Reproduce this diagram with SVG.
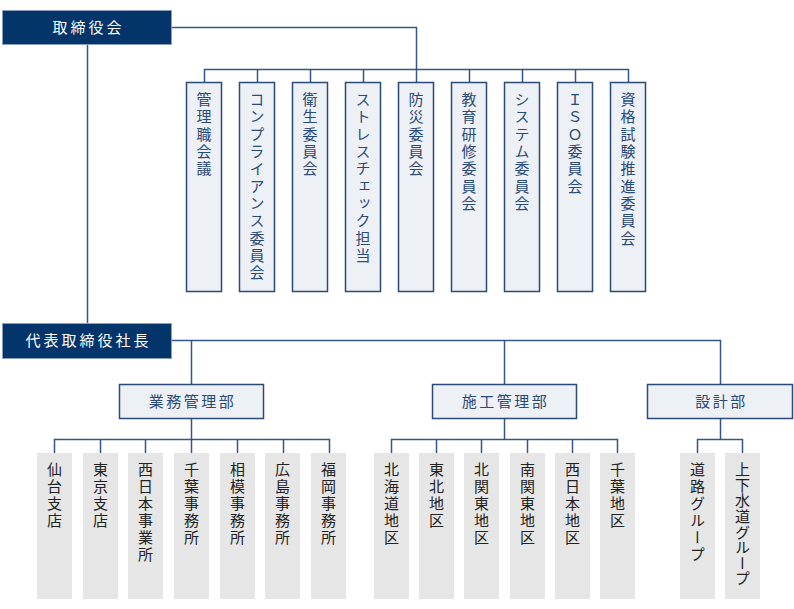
<svg xmlns="http://www.w3.org/2000/svg" width="794" height="609" viewBox="0 0 794 609">
<style>
.top{fill:#03346a;stroke:#8aa0bd;stroke-width:1}
.dept{fill:#edf0f5;stroke:#2a4a78;stroke-width:1.5}
.com{fill:#edf0f5;stroke:#2a4a78;stroke-width:1.5}
.sub{fill:#e6e6e6}
.ln{fill:none;stroke:#34558a;stroke-width:1.5}
.ht{font-family:"Noto Sans CJK JP","Noto Sans",sans-serif;font-size:15px;text-anchor:middle}
.wt{fill:#ffffff;letter-spacing:3px}
.bt{fill:#2a4a78;letter-spacing:2.5px}
.vt{font-family:"Noto Sans CJK JP","Noto Sans",sans-serif;font-size:15px;writing-mode:vertical-rl;letter-spacing:2.3px}
.vb{fill:#2a4a78}
.vk{fill:#222222;letter-spacing:2px}
.tight{letter-spacing:0.6px}
</style>
<g id="connectors">
<path class="ln" d="M172,27.5H416.5V82"/>
<path class="ln" d="M204.5,82V69.5H628.5V82"/>
<path class="ln" d="M257.5,69.5V82M310.5,69.5V82M363.5,69.5V82M469.5,69.5V82M522.5,69.5V82M575.5,69.5V82"/>
<path class="ln" d="M87.5,45V323"/>
<path class="ln" d="M172,340.5H720.5V384"/>
<path class="ln" d="M191.5,340.5V384M504.5,340.5V384"/>
<path class="ln" d="M191.5,419V439.5M54.5,453V439.5H329.5V453"/>
<path class="ln" d="M100.5,439.5V453M145.5,439.5V453M191.5,439.5V453M237.5,439.5V453M283.5,439.5V453"/>
<path class="ln" d="M504.5,419V439.5M391.5,453V439.5H617.5V453"/>
<path class="ln" d="M436.5,439.5V453M481.5,439.5V453M527.5,439.5V453M572.5,439.5V453"/>
<path class="ln" d="M720.5,419V439.5M697.5,453V439.5H742.5V453"/>
</g>
<g id="n-torishimariyakukai"><rect class="top" x="2.5" y="10.5" width="169" height="34"/><text class="ht wt" x="88.5" y="33">取締役会</text></g>
<g id="n-shacho"><rect class="top" x="2.5" y="323.5" width="169" height="35"/><text class="ht wt" x="88.5" y="346">代表取締役社長</text></g>

<g id="n-kanrishoku"><rect class="com" x="186.5" y="82.5" width="35" height="209"/><text class="vt vb" x="204" y="92">管理職会議</text></g>
<g id="n-compliance"><rect class="com" x="239.5" y="82.5" width="35" height="209"/><text class="vt vb" x="257" y="92">コンプライアンス委員会</text></g>
<g id="n-eisei"><rect class="com" x="292.5" y="82.5" width="35" height="209"/><text class="vt vb" x="310" y="92">衛生委員会</text></g>
<g id="n-stress"><rect class="com" x="345.5" y="82.5" width="35" height="209"/><text class="vt vb" x="363" y="92">ストレスチェック担当</text></g>
<g id="n-bosai"><rect class="com" x="398.5" y="82.5" width="35" height="209"/><text class="vt vb" x="416" y="92">防災委員会</text></g>
<g id="n-kyoiku"><rect class="com" x="451.5" y="82.5" width="35" height="209"/><text class="vt vb" x="469" y="92">教育研修委員会</text></g>
<g id="n-system"><rect class="com" x="504.5" y="82.5" width="35" height="209"/><text class="vt vb" x="522" y="92">システム委員会</text></g>
<g id="n-iso"><rect class="com" x="557.5" y="82.5" width="35" height="209"/><text class="vt vb" x="575" y="92">ＩＳＯ委員会</text></g>
<g id="n-shikaku"><rect class="com" x="610.5" y="82.5" width="35" height="209"/><text class="vt vb" x="628" y="92">資格試験推進委員会</text></g>

<g id="n-gyomu"><rect class="dept" x="119.5" y="384.5" width="144" height="34"/><text class="ht bt" x="192.5" y="407">業務管理部</text></g>
<g id="n-seko"><rect class="dept" x="432.5" y="384.5" width="144" height="34"/><text class="ht bt" x="505.5" y="407">施工管理部</text></g>
<g id="n-sekkei"><rect class="dept" x="647.5" y="384.5" width="145" height="34"/><text class="ht bt" x="721.5" y="407">設計部</text></g>

<g id="n-sendai"><rect class="sub" x="37" y="453" width="35" height="146"/><text class="vt vk" x="54.5" y="462">仙台支店</text></g>
<g id="n-tokyo"><rect class="sub" x="83" y="453" width="35" height="146"/><text class="vt vk" x="100.5" y="462">東京支店</text></g>
<g id="n-nishinihon"><rect class="sub" x="128" y="453" width="35" height="146"/><text class="vt vk" x="145.5" y="462">西日本事業所</text></g>
<g id="n-chiba"><rect class="sub" x="174" y="453" width="35" height="146"/><text class="vt vk" x="191.5" y="462">千葉事務所</text></g>
<g id="n-sagami"><rect class="sub" x="220" y="453" width="35" height="146"/><text class="vt vk" x="237.5" y="462">相模事務所</text></g>
<g id="n-hiroshima"><rect class="sub" x="265" y="453" width="35" height="146"/><text class="vt vk" x="282.5" y="462">広島事務所</text></g>
<g id="n-fukuoka"><rect class="sub" x="311" y="453" width="35" height="146"/><text class="vt vk" x="328.5" y="462">福岡事務所</text></g>

<g id="n-hokkaido"><rect class="sub" x="374" y="453" width="35" height="146"/><text class="vt vk" x="391.5" y="462">北海道地区</text></g>
<g id="n-tohoku"><rect class="sub" x="419" y="453" width="35" height="146"/><text class="vt vk" x="436.5" y="462">東北地区</text></g>
<g id="n-kitakanto"><rect class="sub" x="464" y="453" width="35" height="146"/><text class="vt vk" x="481.5" y="462">北関東地区</text></g>
<g id="n-minamikanto"><rect class="sub" x="510" y="453" width="35" height="146"/><text class="vt vk" x="527.5" y="462">南関東地区</text></g>
<g id="n-nishinihonchiku"><rect class="sub" x="555" y="453" width="35" height="146"/><text class="vt vk" x="572.5" y="462">西日本地区</text></g>
<g id="n-chibachiku"><rect class="sub" x="600" y="453" width="35" height="146"/><text class="vt vk" x="617.5" y="462">千葉地区</text></g>

<g id="n-doro"><rect class="sub" x="680" y="453" width="35" height="146"/><text class="vt vk" x="697.5" y="462">道路グループ</text></g>
<g id="n-gesuido"><rect class="sub" x="725" y="453" width="35" height="146"/><text class="vt vk tight" x="742.5" y="462">上下水道グループ</text></g>
</svg>
